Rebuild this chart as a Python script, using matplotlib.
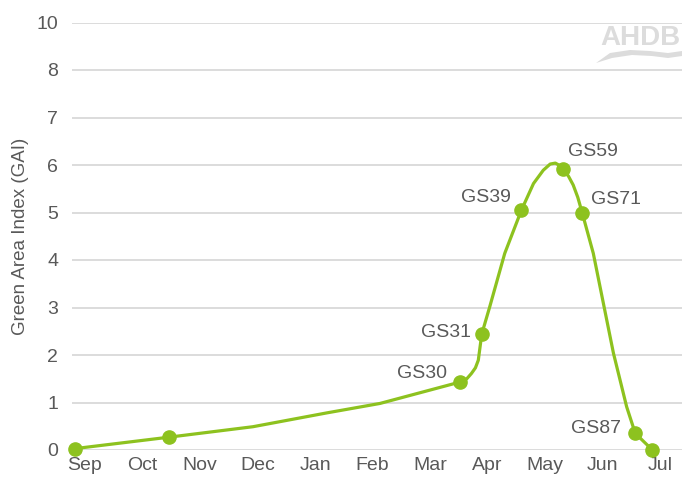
import numpy as np
import matplotlib
matplotlib.use("Agg")
import matplotlib.pyplot as plt
from matplotlib.patches import Polygon

# x in months after Sep (Sep=0), y = GAI
months = ['Sep', 'Oct', 'Nov', 'Dec', 'Jan', 'Feb', 'Mar', 'Apr', 'May', 'Jun', 'Jul']

# smooth line
curve_x = [-0.17, 1.46, 2.92, 4.20, 5.13, 6.52, 6.64, 6.72, 6.79, 6.84, 6.90,
           7.04, 7.30, 7.59, 7.80, 7.97, 8.09, 8.18, 8.24, 8.32, 8.41, 8.49,
           8.57, 8.65, 8.84, 9.19, 9.42, 9.57, 9.86]
curve_y = [0.03, 0.27, 0.49, 0.78, 0.98, 1.43, 1.50, 1.61, 1.73, 1.89, 2.44,
           3.02, 4.14, 5.05, 5.61, 5.89, 6.02, 6.04, 6.00, 5.91, 5.76, 5.58,
           5.32, 4.98, 4.14, 2.04, 0.91, 0.35, 0.01]

# growth stage markers
pt_x = [-0.17, 1.46, 6.52, 6.90, 7.59, 8.32, 8.65, 9.57, 9.86]
pt_y = [0.03, 0.27, 1.43, 2.44, 5.05, 5.91, 4.98, 0.35, 0.01]
pt_lab = ['', '', 'GS30', 'GS31', 'GS39', 'GS59', 'GS71', 'GS87', '']

# y gridlines; top line carries the label "10" in the original
ytick_pos = [0, 1, 2, 3, 4, 5, 6, 7, 8, 9]
ytick_lab = ['0', '1', '2', '3', '4', '5', '6', '7', '8', '10']

GREEN = '#8dc21f'
GREY = '#595959'
plt.rcParams['font.family'] = ['Liberation Sans', 'DejaVu Sans']

fig = plt.figure(figsize=(6.82, 4.84), dpi=100)
ax = fig.add_axes([72 / 682, 34 / 484, 610 / 682, 427.5 / 484])

ax.set_xlim((72 - 85) / 57.5, (682 - 85) / 57.5)
ax.set_ylim(0, 9)
ax.set_yticks(ytick_pos)
ax.set_yticklabels(ytick_lab)
ax.set_xticks(range(len(months)))
ax.set_xticklabels(months)
ax.grid(axis='y', color='#d9d9d9', lw=1.3)
ax.set_axisbelow(True)
for s in ax.spines.values():
    s.set_visible(False)
ax.tick_params(axis='both', length=0, labelsize=14, labelcolor=GREY)
ax.tick_params(axis='y', pad=10)
ax.tick_params(axis='x', pad=5)
ax.set_ylabel('Green Area Index (GAI)', fontsize=13.5, color=GREY, labelpad=5)

ax.plot(curve_x, curve_y, color=GREEN, lw=2.3, clip_on=False, zorder=3,
        solid_capstyle='round', solid_joinstyle='round')
ax.plot(pt_x, pt_y, 'o', color=GREEN, ms=9.5, clip_on=False, zorder=4)

# label offsets in pixels (dx, dy, ha)
offs = {'GS30': (-13, 9, 'right'), 'GS31': (-11, 2, 'right'),
        'GS39': (-11, 13, 'right'), 'GS59': (5, 18, 'left'),
        'GS71': (9, 14, 'left'), 'GS87': (-14, 5, 'right')}
for x, y, lab in zip(pt_x, pt_y, pt_lab):
    if not lab:
        continue
    dx, dy, ha = offs[lab]
    ax.annotate(lab, (x, y), xytext=(dx, dy), textcoords='offset pixels',
                ha=ha, va='center', fontsize=14, color=GREY)

# AHDB logo, top right (cut off at the edge as in the original)
fig.text(600 / 682, 1 - 38 / 484, 'AHDB', ha='left', va='center',
         fontsize=20, color='#dcdcdc', fontweight='bold')
wx = np.array([596, 612, 632, 652, 668, 682, 682, 668, 650, 630, 610, 596])
wy = np.array([63, 58, 55, 56, 58, 56, 51, 53, 51, 50, 53, 63])
fig.patches.append(Polygon(np.column_stack([wx / 682, 1 - wy / 484]),
                           closed=True, transform=fig.transFigure,
                           facecolor='#dcdcdc', edgecolor='none'))

fig.savefig('out.png', dpi=100)
